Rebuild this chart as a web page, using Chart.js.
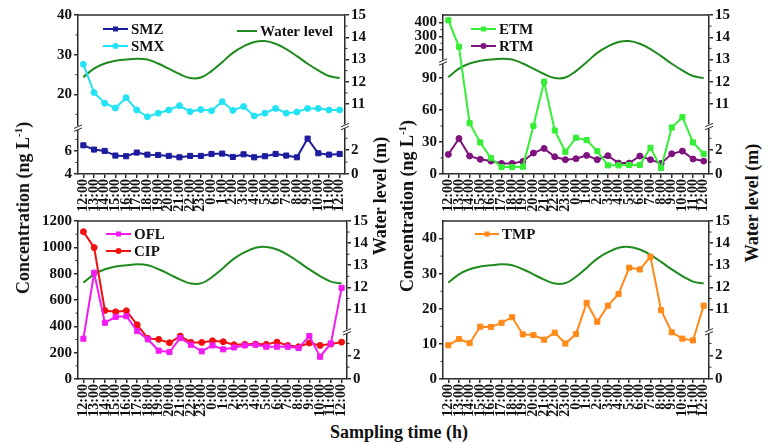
<!DOCTYPE html>
<html>
<head>
<meta charset="utf-8">
<script src="https://cdn.jsdelivr.net/npm/chart.js@4/dist/chart.umd.min.js"></script>
<style>
  body { margin: 0; background: #fff; }
  #wrap { position: relative; width: 768px; height: 443px; overflow: hidden; font-family: "Liberation Serif", "Times New Roman", serif; }
  canvas { position: absolute; }
  .title { position: absolute; font-weight: bold; font-size: 18px; color: #111; white-space: nowrap; line-height: 1; }
  .rot { transform: translate(-50%, -50%) rotate(-90deg); }
  .flat { transform: translate(-50%, -50%); }
  sup { font-size: 11px; line-height: 0; }
</style>
</head>
<body>
<div id="wrap">
  <canvas id="c1" width="345" height="215" style="left:30px;top:0px"></canvas>
  <canvas id="c2" width="345" height="215" style="left:395px;top:0px"></canvas>
  <canvas id="c3" width="345" height="215" style="left:30px;top:206px"></canvas>
  <canvas id="c4" width="345" height="215" style="left:395px;top:206px"></canvas>
  <div class="title rot" style="left:23px;top:208px">Concentration (ng L<sup>-1</sup>)</div>
  <div class="title rot" style="left:380px;top:196px">Water level (m)</div>
  <div class="title rot" style="left:407px;top:206px">Concentration (ng L<sup>-1</sup>)</div>
  <div class="title rot" style="left:752px;top:203px">Water level (m)</div>
  <div class="title flat" style="left:399px;top:432px">Sampling time (h)</div>
</div>
<script>
// horas de muestreo
const timeLabels = ['12:00', '13:00', '14:00', '15:00', '16:00', '17:00', '18:00', '19:00', '20:00',
  '21:00', '22:00', '23:00', '0:00', '1:00', '2:00', '3:00', '4:00', '5:00', '6:00', '7:00',
  '8:00', '9:00', '10:00', '11:00', '12:00'];

const waterLevel = [12.21, 12.59, 12.82, 12.94, 13.00, 13.04, 13.00, 12.82, 12.59, 12.35, 12.17, 12.19,
  12.48, 12.88, 13.30, 13.59, 13.79, 13.83, 13.71, 13.47, 13.15, 12.81, 12.51, 12.26, 12.17];

const smz = [6.49, 6.12, 6.00, 5.60, 5.54, 5.86, 5.68, 5.65, 5.57, 5.45, 5.57, 5.57, 5.74, 5.77, 5.48,
  5.71, 5.45, 5.54, 5.74, 5.60, 5.45, 7.07, 5.80, 5.68, 5.74];
const smx = [27.6, 20.5, 17.8, 16.6, 19.2, 16.1, 14.4, 15.3, 16.1, 17.2, 15.7, 16.2, 15.9, 18.2, 16.0,
  17.0, 14.6, 15.3, 16.5, 15.3, 15.6, 16.5, 16.5, 16.1, 16.1];
const etm = [417, 224, 47.5, 29.5, 14.9, 6.5, 6.5, 6.8, 45, 86.3, 40.7, 20.8, 33.9, 31.7, 21.4, 8.1,
  8.1, 8.4, 8.4, 24.5, 5.6, 43.5, 53.1, 29.5, 18.9];
const rtm = [18.3, 33.2, 16.8, 13.7, 12.1, 9.9, 9.9, 11.8, 19.6, 23.9, 16.1, 13.4, 14.3, 17.4, 13.4,
  17.1, 10.2, 10.2, 16.8, 13.4, 9.9, 18.9, 21.4, 14.0, 12.1];
const ofl = [306, 806, 427, 472, 477, 364, 301, 215, 205, 311, 260, 210, 255, 225, 240, 255, 260, 245,
  245, 245, 235, 326, 169, 270, 692];
const cip = [1119, 998, 520, 510, 518, 412, 308, 301, 275, 326, 278, 278, 290, 283, 260, 263, 265, 263,
  280, 255, 245, 273, 255, 265, 280];
const tmp = [9.6, 11.4, 10.2, 14.9, 14.8, 16.0, 17.6, 12.7, 12.5, 11.2, 13.2, 10.1, 12.8, 21.7, 16.3,
  20.9, 24.2, 31.7, 31.2, 34.8, 19.6, 13.3, 11.5, 11.0, 20.9];

// marcas de los ejes
const ticksSulfa = [4, 6, 20, 30, 40];
const ticksMacro = [0, 30, 60, 90, 200, 300, 400];
const ticksQuino = [0, 200, 400, 600, 800, 1000, 1200];
const ticksTmp = [0, 10, 20, 30, 40];
const ticksWater = [0, 2, 11, 12, 13, 14, 15];

// ejes cortados: cada tramo va de "from" a "to" (fraccion de la altura)
const AXES = {
  sulfa: { segments: [{ min: 4, max: 8, from: 0, to: 0.29 }, { min: 12, max: 40, from: 0.30, to: 1 }],
           ticks: ticksSulfa, minors: [5, 7, 15, 25, 35] },
  macro: { segments: [{ min: 0, max: 105, from: 0, to: 0.706 }, { min: 115, max: 455, from: 0.706, to: 1 }],
           ticks: ticksMacro, minors: [15, 45, 75, 250, 350] },
  quino: { segments: [{ min: 0, max: 1200, from: 0, to: 1 }],
           ticks: ticksQuino, minors: [100, 300, 500, 700, 900, 1100] },
  tmp:   { segments: [{ min: 0, max: 45, from: 0, to: 1 }],
           ticks: ticksTmp, minors: [5, 15, 25, 35] },
  water: { segments: [{ min: 0, max: 4, from: 0, to: 0.30 }, { min: 10, max: 15, from: 0.30, to: 1 }],
           ticks: ticksWater, minors: [1, 3, 11.5, 12.5, 13.5, 14.5] }
};

class BrokenScale extends Chart.LinearScale {
  static id = 'broken';
  static defaults = {};
  cfg() { return AXES[this.options.axisKey]; }
  determineDataLimits() {
    const segs = this.cfg().segments;
    this.min = segs[0].min;
    this.max = segs[segs.length - 1].max;
  }
  buildTicks() {
    return this.cfg().ticks.map(v => ({ value: v }));
  }
  getPixelForValue(value) {
    if (value === null || value === undefined || isNaN(value)) return NaN;
    const segs = this.cfg().segments;
    let s = segs[segs.length - 1];
    for (let i = 0; i < segs.length; i++) {
      if (value <= segs[i].max) { s = segs[i]; break; }
    }
    const dec = s.from + (value - s.min) / (s.max - s.min) * (s.to - s.from);
    return this.getPixelForDecimal(dec);
  }
  getValueForPixel(pixel) {
    const dec = this.getDecimalForPixel(pixel);
    const segs = this.cfg().segments;
    let s = segs[segs.length - 1];
    for (let i = 0; i < segs.length; i++) {
      if (dec <= segs[i].to) { s = segs[i]; break; }
    }
    return s.min + (dec - s.from) / (s.to - s.from) * (s.max - s.min);
  }
}
Chart.register(BrokenScale);

Chart.defaults.font.family = '"Liberation Serif", "Times New Roman", serif';
Chart.defaults.font.weight = 'bold';
Chart.defaults.color = '#111';

const axisColor = '#2b2b2b';
const green = '#1F8B1F';

function series(label, data, color, style) {
  return {
    label: label, data: data, borderColor: color, backgroundColor: color, borderWidth: 2,
    pointStyle: style, pointRadius: style === 'rect' ? 3.6 : 3, pointBorderWidth: 1,
    yAxisID: 'yL', tension: 0
  };
}

function water() {
  return { label: 'Water level', data: waterLevel, borderColor: green, backgroundColor: green,
    borderWidth: 2, pointRadius: 0, tension: 0.4, yAxisID: 'yR' };
}

function yScale(position, key, width) {
  return {
    type: 'broken', axisKey: key, position: position,
    grid: { drawOnChartArea: false, drawTicks: true, tickLength: 4, color: axisColor, lineWidth: 1.5 },
    border: { display: true, color: axisColor, width: 1.5 },
    ticks: { autoSkip: false, padding: 2, color: '#111', font: { size: 15, weight: 'bold' },
             callback: v => String(v) },
    afterFit: s => { s.width = width; }
  };
}

// marco superior, marcas menores, cortes del eje y leyenda
function decor(leftKey, legendItems) {
  return {
    id: 'decor',
    afterDraw(chart) {
      const ctx = chart.ctx;
      const a = chart.chartArea;
      ctx.save();
      ctx.strokeStyle = axisColor;
      ctx.lineWidth = 1.5;
      ctx.beginPath();
      ctx.moveTo(a.left, a.top);
      ctx.lineTo(a.right, a.top);
      ctx.stroke();

      [['yL', leftKey, a.left, -1], ['yR', 'water', a.right, 1]].forEach(([id, key, x, dir]) => {
        const sc = chart.scales[id];
        const cfg = AXES[key];
        ctx.strokeStyle = axisColor;
        ctx.lineWidth = 1;
        cfg.minors.forEach(v => {
          const y = sc.getPixelForValue(v);
          ctx.beginPath();
          ctx.moveTo(x, y);
          ctx.lineTo(x + dir * 2.5, y);
          ctx.stroke();
        });
        if (cfg.segments.length > 1) {
          const y = sc.getPixelForDecimal(cfg.segments[0].to);
          ctx.fillStyle = '#fff';
          ctx.fillRect(x - 4, y - 2, 8, 4);
          ctx.beginPath();
          ctx.moveTo(x - 4, y + 0.5); ctx.lineTo(x + 4, y - 3);
          ctx.moveTo(x - 4, y + 3.5); ctx.lineTo(x + 4, y);
          ctx.stroke();
        }
      });

      legendItems.forEach(it => {
        const ds = chart.data.datasets[it.i];
        const x0 = a.left + it.x;
        const y = a.top + it.y;
        ctx.strokeStyle = ds.borderColor;
        ctx.lineWidth = 2;
        ctx.beginPath();
        ctx.moveTo(x0, y);
        ctx.lineTo(x0 + it.len, y);
        ctx.stroke();
        if (ds.pointRadius > 0) {
          const cx = x0 + it.len / 2;
          ctx.fillStyle = ds.backgroundColor;
          ctx.beginPath();
          if (ds.pointStyle === 'rect') {
            ctx.rect(cx - 2.5, y - 2.5, 5, 5);
          } else {
            ctx.arc(cx, y, 3, 0, Math.PI * 2);
          }
          ctx.fill();
        }
        ctx.fillStyle = '#111';
        ctx.font = 'bold 15px "Liberation Serif", serif';
        ctx.textBaseline = 'middle';
        ctx.textAlign = 'left';
        ctx.fillText(ds.label, x0 + it.len + 3, y + 1);
      });
      ctx.restore();
    }
  };
}

function makePanel(id, datasets, leftKey, rightWidth, xHeight, legendItems) {
  new Chart(document.getElementById(id), {
    type: 'line',
    data: { labels: timeLabels, datasets: datasets },
    options: {
      responsive: false,
      animation: false,
      layout: { padding: { top: 15, left: 0, right: 0, bottom: 0 } },
      plugins: { legend: { display: false }, tooltip: { enabled: false } },
      scales: {
        x: {
          type: 'category', offset: true,
          grid: { drawOnChartArea: false, drawTicks: true, tickLength: 4, color: axisColor, lineWidth: 1.5 },
          border: { display: true, color: axisColor, width: 1.5 },
          ticks: { autoSkip: false, minRotation: 90, maxRotation: 90, padding: 1, color: '#111',
                   font: { size: 14, weight: 'bold' } },
          afterFit: s => { s.height = xHeight; }
        },
        yL: yScale('left', leftKey, 48),
        yR: yScale('right', 'water', rightWidth)
      }
    },
    plugins: [decor(leftKey, legendItems)]
  });
}

makePanel('c1', [series('SMZ', smz, '#1C1C9E', 'rect'), series('SMX', smx, '#22E3F3', 'circle'), water()],
  'sulfa', 30, 41,
  [{ i: 0, x: 25, y: 14, len: 25 }, { i: 1, x: 25, y: 31, len: 25 }, { i: 2, x: 159, y: 16, len: 20 }]);

makePanel('c2', [series('ETM', etm, '#35EE35', 'rect'), series('RTM', rtm, '#7E127E', 'circle'), water()],
  'macro', 31, 41,
  [{ i: 0, x: 28, y: 14, len: 25 }, { i: 1, x: 28, y: 31, len: 25 }]);

makePanel('c3', [series('OFL', ofl, '#F21CF2', 'rect'), series('CIP', cip, '#F01010', 'circle'), water()],
  'quino', 28, 42,
  [{ i: 0, x: 28, y: 13, len: 25 }, { i: 1, x: 28, y: 30, len: 25 }]);

makePanel('c4', [series('TMP', tmp, '#FF8A1A', 'rect'), water()],
  'tmp', 31, 42,
  [{ i: 0, x: 32, y: 13, len: 24 }]);
</script>
</body>
</html>
